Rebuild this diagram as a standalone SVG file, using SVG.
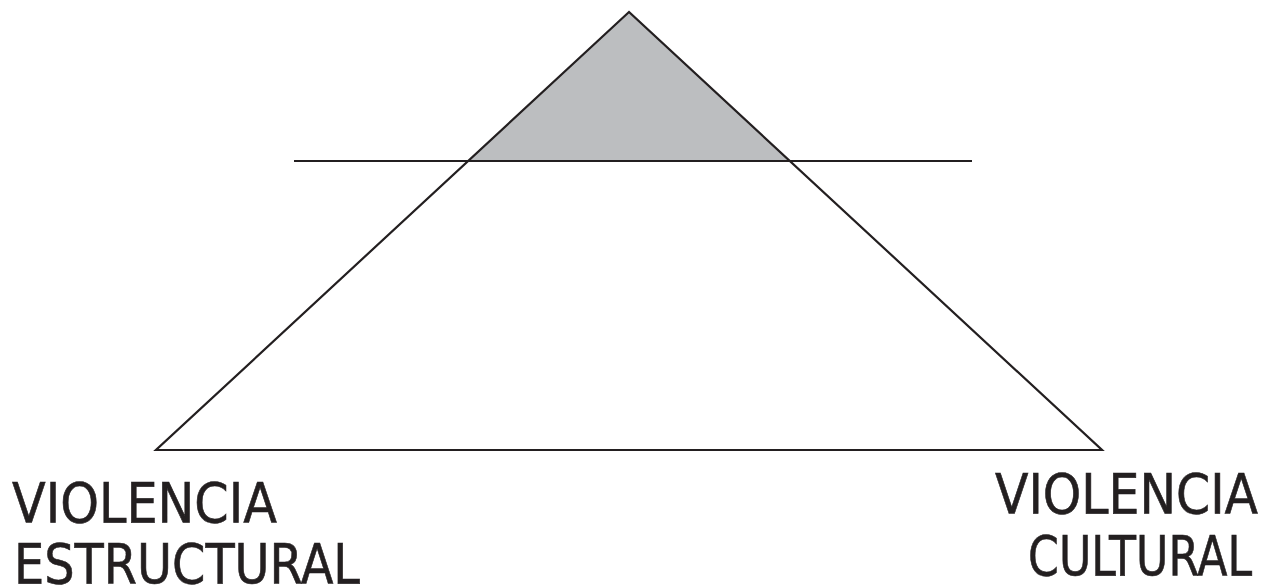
<svg xmlns="http://www.w3.org/2000/svg" width="1271" height="587" viewBox="0 0 1271 587">
<style>
.ln{stroke:#231f20;stroke-width:2.2;fill:none;stroke-linejoin:miter}
.lbl{font-family:"DejaVu Sans Condensed","DejaVu Sans",sans-serif;font-size:56px;fill:#231f20;stroke:#231f20;stroke-width:0.6}
</style>
<rect width="1271" height="587" fill="#fff"/>
<g id="pyramid">
<polygon points="629,12 468,161 790,161" fill="#bcbec0"/>
<polygon class="ln" points="629,12 156,450 1102,450"/>
</g>
<g id="connectors">
<line class="ln" x1="294" y1="161" x2="972" y2="161"/>
</g>
<g id="label-estructural">
<text class="lbl" x="12" y="522" textLength="265" lengthAdjust="spacingAndGlyphs">VIOLENCIA</text>
<text class="lbl" x="14" y="583" textLength="346" lengthAdjust="spacingAndGlyphs">ESTRUCTURAL</text>
</g>
<g id="label-cultural">
<text class="lbl" x="995" y="513" textLength="263" lengthAdjust="spacingAndGlyphs">VIOLENCIA</text>
<text class="lbl" x="1028" y="575" textLength="224" lengthAdjust="spacingAndGlyphs">CULTURAL</text>
</g>
</svg>
